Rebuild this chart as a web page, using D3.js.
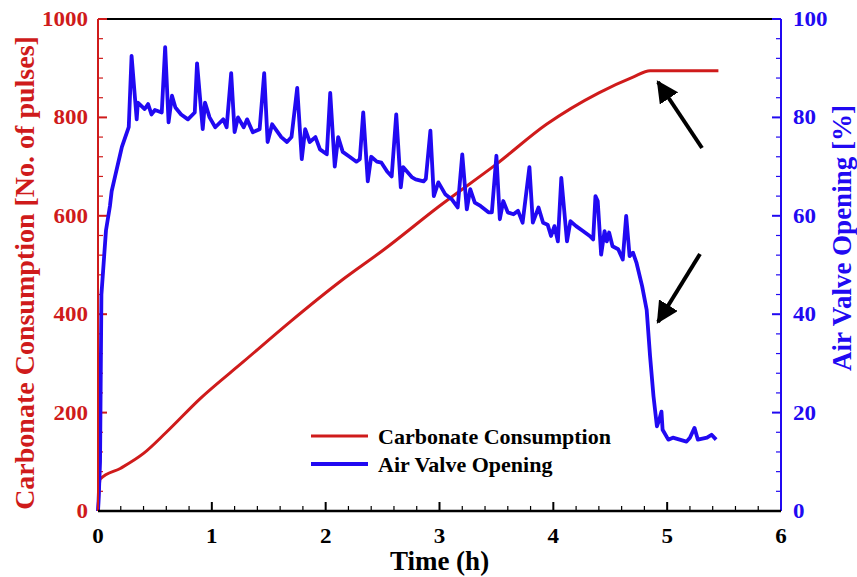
<!DOCTYPE html>
<html>
<head>
<meta charset="utf-8">
<style>
  body { margin: 0; background: #fff; }
  text { font-family: "Liberation Serif", "Times New Roman", serif; font-weight: bold; }
</style>
</head>
<body>
<div id="chart"></div>
<script src="https://d3js.org/d3.v7.min.js"></script>
<script>
// carbonate consumption [pulses] vs time [h]
var carbTime = [0, 0.02, 0.2, 0.4, 0.6, 0.9, 1.28, 1.69, 2.13, 2.51, 3.0, 3.5, 3.94, 4.4, 4.7, 4.85, 5.45];
var carbVals = [0, 65, 87, 117, 160, 229, 304, 385, 467, 531, 620, 705, 786, 850, 882, 895, 895];

// air valve opening [%] vs time [h]
var valveTime = [0, 0.005, 0.018, 0.03, 0.07, 0.105, 0.12, 0.15, 0.19, 0.21, 0.27, 0.295, 0.34, 0.35, 0.41, 0.44, 0.47, 0.5, 0.56, 0.59,
  0.62, 0.65, 0.68, 0.73, 0.79, 0.85, 0.87, 0.92, 0.94, 0.98, 1.03, 1.1, 1.13, 1.17, 1.2, 1.23, 1.28, 1.31, 1.36, 1.42,
  1.46, 1.49, 1.53, 1.61, 1.66, 1.70, 1.75, 1.79, 1.82, 1.86, 1.91, 1.95, 2.01, 2.04, 2.08, 2.11, 2.15, 2.21, 2.27, 2.30,
  2.33, 2.37, 2.40, 2.45, 2.49, 2.54, 2.58, 2.62, 2.66, 2.68, 2.76, 2.79, 2.86, 2.88, 2.92, 2.95, 2.99, 3.05, 3.11, 3.16,
  3.20, 3.24, 3.27, 3.31, 3.36, 3.43, 3.46, 3.50, 3.53, 3.56, 3.60, 3.65, 3.69, 3.73, 3.79, 3.82, 3.87, 3.91, 3.95, 3.98,
  4.01, 4.04, 4.07, 4.12, 4.15, 4.20, 4.26, 4.32, 4.35, 4.37, 4.39, 4.42, 4.45, 4.47, 4.49, 4.52, 4.57, 4.61, 4.64, 4.67,
  4.70, 4.73, 4.78, 4.82, 4.85, 4.88, 4.91, 4.93, 4.95, 4.96, 5.01, 5.05, 5.11, 5.17, 5.20, 5.24, 5.27, 5.35, 5.39, 5.43];
var valveVals = [0, 2, 10, 44, 57, 62, 65, 68, 72, 74, 78, 92.5, 79.6, 83, 81.7, 82.7, 80.6, 81.5, 81, 94.3,
  79, 84.4, 82, 80.6, 79.6, 81, 91, 77.6, 83, 80, 78, 79.6, 78, 89, 77, 80, 78, 79.6, 77, 77.6,
  89, 75, 78.6, 76, 75, 76, 86, 71.5, 77.6, 75, 76, 73.5, 72.5, 85, 70, 76, 73, 72, 71, 71.5,
  81, 67, 72, 71, 70.8, 69, 68, 80.6, 65.8, 69.9, 67.8, 67.4, 67, 67.5, 77.3, 64, 66.8, 64.4, 63.3, 61.7,
  72.5, 61.3, 65.4, 62.7, 62, 60.7, 60.7, 72.2, 59.3, 63, 60.7, 60.3, 61, 58.6, 69.9, 58.6, 61.7, 58.6, 58.2, 55.9,
  57.9, 54.8, 67.7, 54.8, 58.9, 57.9, 56.9, 55.9, 55.2, 64, 63, 52.1, 56.9, 54.8, 56.6, 53.8, 53.2, 51.1, 60, 51.8,
  52.5, 50.5, 45.7, 40.9, 31.4, 23.3, 17.2, 18.5, 20.2, 16.5, 14.5, 14.9, 14.5, 14.1, 14.9, 16.9, 14.5, 14.9, 15.5, 14.5];

var xTicks = [0, 1, 2, 3, 4, 5, 6];
var leftTicks = [0, 200, 400, 600, 800, 1000];
var rightTicks = [0, 20, 40, 60, 80, 100];
var legendNames = ["Carbonate Consumption", "Air Valve Opening"];

var red = "#cf1b1b", blue = "#2109f2";
var W = 857, H = 577;
var m = {left: 98, right: 76, top: 19, bottom: 66};

var svg = d3.select("#chart").append("svg").attr("width", W).attr("height", H);

var x = d3.scaleLinear().domain([0, 6]).range([m.left, W - m.right]);
var yL = d3.scaleLinear().domain([0, 1000]).range([H - m.bottom, m.top]);
var yR = d3.scaleLinear().domain([0, 100]).range([H - m.bottom, m.top]);

var x0 = m.left, x1 = W - m.right, y0 = H - m.bottom, y1 = m.top;

// frame top
svg.append("line").attr("x1", x0).attr("x2", x1).attr("y1", y1).attr("y2", y1).attr("stroke", "#000").attr("stroke-width", 2);

// minor/major ticks, inward
var gx = svg.append("g");
d3.range(0, 6.001, 0.2).forEach(function (t) {
  var major = Math.abs(t - Math.round(t)) < 1e-6;
  gx.append("line").attr("x1", x(t)).attr("x2", x(t))
    .attr("y1", y0).attr("y2", y0 - (major ? 9 : 5))
    .attr("stroke", "#000").attr("stroke-width", major ? 2 : 1.2);
});
var gl = svg.append("g"), gr = svg.append("g");
d3.range(0, 1000.1, 40).forEach(function (v) {
  var major = v % 200 === 0;
  gl.append("line").attr("x1", x0).attr("x2", x0 + (major ? 9 : 5))
    .attr("y1", yL(v)).attr("y2", yL(v)).attr("stroke", red).attr("stroke-width", major ? 2 : 1.2);
});
d3.range(0, 100.01, 4).forEach(function (v) {
  var major = v % 20 === 0;
  gr.append("line").attr("x1", x1).attr("x2", x1 - (major ? 9 : 5))
    .attr("y1", yR(v)).attr("y2", yR(v)).attr("stroke", blue).attr("stroke-width", major ? 2 : 1.2);
});

// tick labels (slightly wide digits, like the original)
var sx = 1.15, fs = 20;
svg.append("g").selectAll("text").data(xTicks).join("text")
  .attr("transform", function (d) { return "translate(" + x(d) + "," + (y0 + 32) + ") scale(" + sx + ",1)"; })
  .attr("text-anchor", "middle").attr("font-size", fs).attr("fill", "#000")
  .text(function (d) { return d; });
svg.append("g").selectAll("text").data(leftTicks).join("text")
  .attr("transform", function (d) { return "translate(" + (x0 - 10) + "," + (yL(d) + 7) + ") scale(" + sx + ",1)"; })
  .attr("text-anchor", "end").attr("font-size", fs).attr("fill", red)
  .text(function (d) { return d; });
svg.append("g").selectAll("text").data(rightTicks).join("text")
  .attr("transform", function (d) { return "translate(" + (x1 + 12) + "," + (yR(d) + 7) + ") scale(" + sx + ",1)"; })
  .attr("text-anchor", "start").attr("font-size", fs).attr("fill", blue)
  .text(function (d) { return d; });

// axis titles
svg.append("text").attr("x", x(3)).attr("y", 570)
  .attr("text-anchor", "middle").attr("font-size", 27).attr("fill", "#000").text("Time (h)");
svg.append("text").attr("transform", "translate(34,273) rotate(-90)")
  .attr("text-anchor", "middle").attr("font-size", 28).attr("fill", red)
  .text("Carbonate Consumption [No. of pulses]");
svg.append("text").attr("transform", "translate(851,238) rotate(-90)")
  .attr("text-anchor", "middle").attr("font-size", 27).attr("fill", blue)
  .text("Air Valve Opening [%]");

// series
var carb = carbTime.map(function (t, i) { return [t, carbVals[i]]; });
var valve = valveTime.map(function (t, i) { return [t, valveVals[i]]; });

svg.append("path").datum(carb)
  .attr("d", d3.line().x(function (d) { return x(d[0]); }).y(function (d) { return yL(d[1]); }).curve(d3.curveMonotoneX))
  .attr("fill", "none").attr("stroke", red).attr("stroke-width", 3).attr("stroke-linejoin", "round");
svg.append("path").datum(valve)
  .attr("d", d3.line().x(function (d) { return x(d[0]); }).y(function (d) { return yR(d[1]); }))
  .attr("fill", "none").attr("stroke", blue).attr("stroke-width", 3.8).attr("stroke-linejoin", "round");

// axis lines (coloured) and bottom
svg.append("line").attr("x1", x0).attr("x2", x0).attr("y1", y0).attr("y2", y1).attr("stroke", red).attr("stroke-width", 2);
svg.append("line").attr("x1", x1).attr("x2", x1).attr("y1", y0).attr("y2", y1).attr("stroke", blue).attr("stroke-width", 2);
svg.append("line").attr("x1", x0).attr("x2", x1).attr("y1", y0).attr("y2", y0).attr("stroke", "#000").attr("stroke-width", 2.5);

// legend
var lg = svg.append("g").attr("transform", "translate(311,436)");
[red, blue].forEach(function (c, i) {
  lg.append("line").attr("x1", 0).attr("x2", 57).attr("y1", i * 28).attr("y2", i * 28)
    .attr("stroke", c).attr("stroke-width", i ? 3.8 : 3);
  lg.append("text").attr("x", 67).attr("y", i * 28 + 8).attr("font-size", 22).attr("fill", "#000")
    .text(legendNames[i]);
});

// arrows
var defs = svg.append("defs");
defs.append("marker").attr("id", "head").attr("viewBox", "0 0 10 10")
  .attr("refX", 9).attr("refY", 5).attr("markerWidth", 5.5).attr("markerHeight", 5.5)
  .attr("markerUnits", "strokeWidth").attr("orient", "auto")
  .append("path").attr("d", "M0,0 L10,5 L0,10 Z").attr("fill", "#000");
[[702, 148, 658, 82], [700, 254, 658, 322]].forEach(function (a) {
  svg.append("line").attr("x1", a[0]).attr("y1", a[1]).attr("x2", a[2]).attr("y2", a[3])
    .attr("stroke", "#000").attr("stroke-width", 4).attr("marker-end", "url(#head)");
});
</script>
</body>
</html>
